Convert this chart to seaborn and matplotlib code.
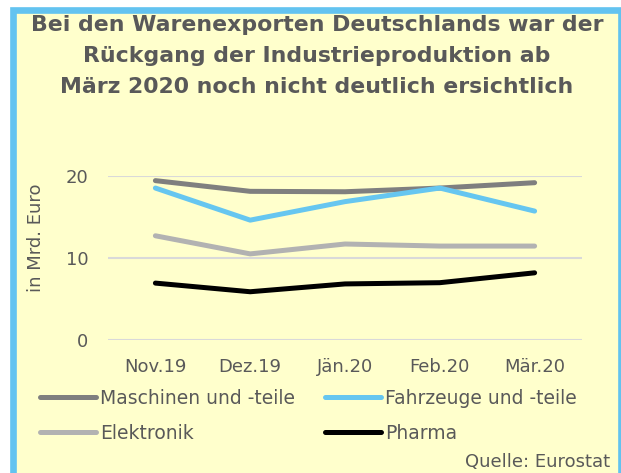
import pandas as pd
import matplotlib.pyplot as plt
import seaborn as sns
from matplotlib.patches import Rectangle

# Werte in Mrd. Euro
months = ["Nov.19", "Dez.19", "Jän.20", "Feb.20", "Mär.20"]
maschinen = [19.4, 18.1, 18.05, 18.5, 19.15]
fahrzeuge = [18.5, 14.6, 16.85, 18.5, 15.7]
elektronik = [12.7, 10.5, 11.7, 11.45, 11.45]
pharma = [6.95, 5.9, 6.85, 7.0, 8.2]

series = ["Maschinen und -teile", "Fahrzeuge und -teile", "Elektronik", "Pharma"]
colors = ["#7F7F7F", "#66C6F0", "#B2B2B2", "#000000"]
title_lines = ["Bei den Warenexporten Deutschlands war der",
               "Rückgang der Industrieproduktion ab",
               "März 2020 noch nicht deutlich ersichtlich"]

TXT = "#595959"
BG = "#FFFFCC"

frame = pd.DataFrame({
    "Monat": months * 4,
    "Wert": maschinen + fahrzeuge + elektronik + pharma,
    "Gruppe": [s for s in series for _ in months],
})

sns.set_theme(style="white")
plt.rcParams["font.family"] = ["DejaVu Sans"]

fig = plt.figure(figsize=(6.21, 4.73), dpi=100)
fig.patch.set_facecolor("white")

# yellow card with blue frame
fig.patches.append(Rectangle((13 / 621, -0.05), 1.0 - 13 / 621, 0.05 + 1 - 10 / 473,
                             transform=fig.transFigure, facecolor=BG, edgecolor="#63C3F0",
                             linewidth=4.8, zorder=-10))

ax = fig.add_axes([108 / 621, 1 - 340.3 / 473, 474 / 621, 164.6 / 473])
ax.set_facecolor("none")

sns.lineplot(data=frame, x="Monat", y="Wert", hue="Gruppe", hue_order=series,
             palette=colors, linewidth=3.6, sort=False, ax=ax,
             solid_capstyle="round", legend=True)

ax.set_xlim(-0.5, 4.5)
ax.set_ylim(0, 20)
ax.set_yticks([0, 10, 20])
ax.grid(axis="y", color="#D9D9D9", linewidth=1.5)
ax.set_axisbelow(True)
for s in ax.spines.values():
    s.set_visible(False)
ax.tick_params(axis="x", length=0, pad=13, labelsize=13, labelcolor=TXT)
ax.tick_params(axis="y", length=0, pad=14, labelsize=13, labelcolor=TXT)
for ln in ax.lines:
    ln.set_clip_on(False)

ax.set_xlabel("")
ax.set_ylabel("in Mrd. Euro", fontsize=13, color=TXT)
ax.yaxis.set_label_coords(-0.133, 0.625)

handles, labels = ax.get_legend_handles_labels()
ax.legend_.remove()
order = [0, 2, 1, 3]
fig.legend([handles[i] for i in order], [labels[i] for i in order], ncol=2,
           loc="upper left", bbox_to_anchor=(40 / 621, 1 - 389 / 473),
           frameon=False, fontsize=13.5, labelcolor=TXT, handlelength=3.0,
           handletextpad=0.2, columnspacing=1.6, labelspacing=0.85,
           borderpad=0, borderaxespad=0)

for i, line in enumerate(title_lines):
    fig.text(317 / 621, 1 - (25 + 31 * i) / 473, line, ha="center", va="center",
             fontsize=15.8, fontweight="bold", color=TXT)

fig.text(610 / 621, 1 - 461.7 / 473, "Quelle: Eurostat", ha="right", va="center",
         fontsize=13, color=TXT)

plt.savefig("out.png", dpi=100)
plt.close()
